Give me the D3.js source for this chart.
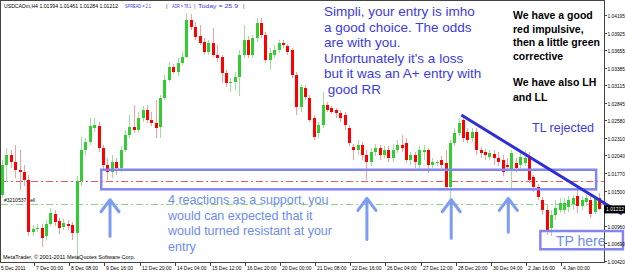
<!DOCTYPE html>
<html>
<head>
<meta charset="utf-8">
<script src="https://cdn.jsdelivr.net/npm/d3@7"></script>
<style>
  body { margin: 0; background: #fff; }
  svg { display: block; font-family: Arial, "Liberation Sans", sans-serif; }
</style>
</head>
<body>
<svg width="625" height="272"></svg>
<script>
// USDCAD H4 candles, 5 Dec 2011 -> 4 Jan 2012
var opens = [
  1.0143,1.0189,1.0205,1.0194,1.0182,1.0179,1.0166,1.0086,1.0091,1.0093,
  1.0080,1.0099,1.0114,1.0103,1.0094,1.0099,1.0097,1.0085,1.0165,1.0212,
  1.0225,1.0246,1.0249,1.0215,1.0189,1.0179,1.0194,1.0185,1.0212,1.0235,
  1.0248,1.0243,1.0261,1.0274,1.0258,1.0254,1.0248,1.0292,1.0320,1.0340,
  1.0332,1.0346,1.0355,1.0412,1.0401,1.0387,1.0378,1.0363,1.0376,1.0358,
  1.0355,1.0330,1.0315,1.0317,1.0324,1.0358,1.0381,1.0358,1.0384,1.0407,
  1.0389,1.0350,1.0358,1.0366,1.0376,1.0372,1.0366,1.0327,1.0278,1.0307,
  1.0292,1.0261,1.0238,1.0251,1.0281,1.0277,1.0274,1.0269,1.0266,1.0246,
  1.0217,1.0212,1.0220,1.0205,1.0194,1.0209,1.0215,1.0205,1.0212,1.0200,
  1.0212,1.0220,1.0223,1.0197,1.0205,1.0189,1.0209,1.0212,1.0189,1.0192,
  1.0197,1.0192,1.0155,1.0223,1.0238,1.0258,1.0240,1.0231,1.0240,1.0212,
  1.0209,1.0202,1.0206,1.0200,1.0197,1.0189,1.0182,1.0192,1.0189,1.0192,
  1.0202,1.0171,1.0155,1.0136,1.0120,1.0093,1.0113,1.0120,1.0120,1.0125,
  1.0129,1.0142,1.0126,1.0132,1.0136,1.0117,1.0139];
var highs = [
  1.0197,1.0215,1.0212,1.0220,1.0212,1.0189,1.0174,1.0097,1.0099,1.0099,
  1.0105,1.0123,1.0120,1.0108,1.0106,1.0105,1.0102,1.0172,1.0232,1.0231,
  1.0261,1.0261,1.0255,1.0220,1.0200,1.0205,1.0200,1.0218,1.0243,1.0266,
  1.0281,1.0271,1.0280,1.0281,1.0271,1.0289,1.0297,1.0327,1.0347,1.0344,
  1.0353,1.0363,1.0423,1.0421,1.0409,1.0404,1.0384,1.0381,1.0400,1.0373,
  1.0358,1.0335,1.0323,1.0332,1.0366,1.0404,1.0387,1.0389,1.0415,1.0415,
  1.0393,1.0369,1.0373,1.0381,1.0381,1.0375,1.0369,1.0332,1.0312,1.0312,
  1.0297,1.0266,1.0255,1.0301,1.0286,1.0280,1.0277,1.0274,1.0271,1.0251,
  1.0221,1.0228,1.0225,1.0212,1.0215,1.0221,1.0220,1.0218,1.0218,1.0221,
  1.0228,1.0235,1.0231,1.0209,1.0209,1.0218,1.0220,1.0215,1.0200,1.0197,
  1.0203,1.0212,1.0228,1.0246,1.0261,1.0266,1.0246,1.0246,1.0246,1.0217,
  1.0214,1.0212,1.0212,1.0209,1.0205,1.0200,1.0212,1.0200,1.0208,1.0212,
  1.0209,1.0174,1.0160,1.0140,1.0128,1.0120,1.0136,1.0139,1.0139,1.0142,
  1.0143,1.0151,1.0142,1.0143,1.0142,1.0143,1.0146];
var lows = [
  1.0139,1.0163,1.0185,1.0169,1.0151,1.0157,1.0080,1.0080,1.0086,1.0063,
  1.0074,1.0096,1.0096,1.0083,1.0090,1.0090,1.0074,1.0043,1.0157,1.0205,
  1.0220,1.0240,1.0209,1.0182,1.0166,1.0169,1.0174,1.0179,1.0209,1.0231,
  1.0238,1.0238,1.0255,1.0254,1.0249,1.0231,1.0231,1.0289,1.0317,1.0329,
  1.0326,1.0343,1.0353,1.0396,1.0381,1.0373,1.0358,1.0358,1.0355,1.0347,
  1.0315,1.0309,1.0301,1.0304,1.0295,1.0353,1.0353,1.0353,1.0378,1.0384,
  1.0346,1.0335,1.0353,1.0361,1.0369,1.0358,1.0323,1.0266,1.0271,1.0289,
  1.0255,1.0228,1.0231,1.0246,1.0271,1.0268,1.0261,1.0255,1.0243,1.0218,
  1.0197,1.0205,1.0197,1.0166,1.0188,1.0203,1.0197,1.0200,1.0194,1.0194,
  1.0208,1.0209,1.0192,1.0189,1.0185,1.0182,1.0197,1.0177,1.0185,1.0188,
  1.0185,1.0151,1.0117,1.0218,1.0234,1.0225,1.0223,1.0225,1.0205,1.0200,
  1.0197,1.0197,1.0189,1.0188,1.0172,1.0182,1.0151,1.0179,1.0185,1.0188,
  1.0162,1.0148,1.0136,1.0113,1.0082,1.0080,1.0105,1.0116,1.0114,1.0117,
  1.0120,1.0116,1.0120,1.0126,1.0108,1.0114,1.0121];
var closes = [
  1.0189,1.0205,1.0194,1.0182,1.0179,1.0166,1.0086,1.0091,1.0093,1.0077,
  1.0099,1.0116,1.0102,1.0093,1.0100,1.0096,1.0085,1.0165,1.0212,1.0225,
  1.0249,1.0251,1.0215,1.0189,1.0179,1.0194,1.0185,1.0212,1.0235,1.0248,
  1.0243,1.0261,1.0274,1.0258,1.0254,1.0246,1.0292,1.0320,1.0340,1.0332,
  1.0346,1.0355,1.0412,1.0401,1.0386,1.0376,1.0363,1.0376,1.0358,1.0353,
  1.0330,1.0315,1.0317,1.0324,1.0358,1.0381,1.0358,1.0384,1.0407,1.0389,
  1.0350,1.0361,1.0366,1.0376,1.0373,1.0363,1.0327,1.0278,1.0309,1.0294,
  1.0258,1.0232,1.0251,1.0281,1.0274,1.0271,1.0269,1.0261,1.0251,1.0223,
  1.0212,1.0220,1.0205,1.0194,1.0209,1.0215,1.0205,1.0212,1.0200,1.0212,
  1.0220,1.0215,1.0197,1.0205,1.0194,1.0212,1.0212,1.0189,1.0194,1.0194,
  1.0189,1.0155,1.0223,1.0238,1.0254,1.0231,1.0228,1.0240,1.0212,1.0208,
  1.0205,1.0208,1.0200,1.0194,1.0179,1.0186,1.0208,1.0185,1.0202,1.0200,
  1.0166,1.0155,1.0140,1.0120,1.0090,1.0113,1.0123,1.0131,1.0131,1.0136,
  1.0139,1.0126,1.0136,1.0139,1.0114,1.0139,1.01212];

// time axis labels, one every 8 bars
var dateLabels = ["5 Dec 2011","7 Dec 00:00","8 Dec 08:00","9 Dec 16:00","12 Dec 20:00",
  "14 Dec 04:00","15 Dec 12:00","16 Dec 20:00","20 Dec 00:00","21 Dec 08:00","22 Dec 16:00",
  "26 Dec 04:00","27 Dec 12:00","28 Dec 20:00","30 Dec 04:00","2 Jan 16:00","4 Jan 00:00"];
var priceTicks = [1.04195,1.03925,1.03655,1.03385,1.03115,1.02845,1.02580,1.02310,
  1.02040,1.01770,1.01500,1.00960,1.00690,1.00420];
var lastPrice = 1.01212;
var stopLevel = 1.0165, entryLevel = 1.0129;

function main() {
    var svg = d3.select("svg"),
        plotRight = 604,
        plotBottom = 262;

    var x = d3.scaleLinear().domain([0, opens.length - 1]).range([2, 599.2]);
    var y = d3.scaleLinear().domain([1.00420, 1.04195]).range([261, 15]);
    var bars = d3.range(opens.length);

    // chart frame
    svg.append("rect")
        .attr("x", 0.5).attr("y", 0.5)
        .attr("width", plotRight).attr("height", plotBottom)
        .attr("fill", "none").attr("stroke", "#444").attr("shape-rendering", "crispEdges");

    // order lines (stop loss red, entry green)
    [[stopLevel, "#e35b5b"], [entryLevel, "#86d686"]].forEach(function (l) {
        svg.append("line")
            .attr("x1", 1).attr("x2", plotRight)
            .attr("y1", Math.round(y(l[0])) + 0.5).attr("y2", Math.round(y(l[0])) + 0.5)
            .attr("stroke", l[1]).attr("stroke-dasharray", "7,3,2,3");
    });
    svg.append("text")
        .attr("x", 4).attr("y", y(entryLevel) - 2)
        .style("font-size", "5px").text("#3210537 sell");

    // candles
    var g = svg.append("g").attr("shape-rendering", "crispEdges");
    g.selectAll(".wick").data(bars).enter().append("line")
        .attr("class", "wick")
        .attr("x1", function (i) { return Math.round(x(i)) + 0.5; })
        .attr("x2", function (i) { return Math.round(x(i)) + 0.5; })
        .attr("y1", function (i) { return y(highs[i]); })
        .attr("y2", function (i) { return y(lows[i]); })
        .attr("stroke", function (i) { return closes[i] >= opens[i] ? "#9ee09e" : "#f5a0a0"; });
    g.selectAll(".body").data(bars).enter().append("rect")
        .attr("class", "body")
        .attr("x", function (i) { return Math.round(x(i)) - 1; })
        .attr("width", 3)
        .attr("y", function (i) { return y(Math.max(opens[i], closes[i])); })
        .attr("height", function (i) { return Math.max(1, Math.abs(y(opens[i]) - y(closes[i]))); })
        .attr("fill", function (i) { return closes[i] >= opens[i] ? "#33cc33" : "#ff0000"; });

    // support zone and TP box
    svg.append("rect")
        .attr("x", x(22.6)).attr("y", y(1.0182))
        .attr("width", x(135.3) - x(22.6)).attr("height", y(1.0152) - y(1.0182))
        .attr("fill", "none").attr("stroke", "#8585f2").attr("stroke-width", 2.5);
    svg.append("rect")
        .attr("x", x(122.6)).attr("y", y(1.0088))
        .attr("width", x(141.4) - x(122.6)).attr("height", y(1.0060) - y(1.0088))
        .attr("fill", "none").attr("stroke", "#8585f2").attr("stroke-width", 2.5);

    // trend line
    svg.append("line")
        .attr("x1", x(104.6)).attr("y1", y(1.0266))
        .attr("x2", x(141.2)).attr("y2", y(1.0114))
        .attr("stroke", "#2e2ed6").attr("stroke-width", 3);

    // reaction arrows
    var arrows = [[24.6, 1.0136, 1.0080], [83.1, 1.0138, 1.0075], [102.3, 1.0136, 1.0077], [115.3, 1.0138, 1.0086]];
    arrows.forEach(function (a) {
        var ax = x(a[0]), top = y(a[1]), bot = y(a[2]);
        svg.append("path")
            .attr("d", "M" + ax + "," + bot + "L" + ax + "," + top +
                "M" + (ax - 9) + "," + (top + 12) + "L" + ax + "," + top + "L" + (ax + 9) + "," + (top + 12))
            .attr("fill", "none").attr("stroke", "#7d9df5").attr("stroke-width", 3)
            .attr("stroke-linecap", "round").attr("stroke-linejoin", "round");
    });

    // annotations
    function block(lines, x0, y0, dy, size, color, weight) {
        var t = svg.append("text").attr("x", x0).attr("y", y0)
            .style("font-size", size + "px").style("fill", color)
            .style("font-weight", weight || "normal").attr("xml:space", "preserve");
        lines.forEach(function (s, k) {
            t.append("tspan").attr("x", x0).attr("dy", k === 0 ? 0 : dy).text(s);
        });
    }
    block(["Simpli, your entry is imho", "a good choice. The odds", "are with you.",
        "Unfortunately it's a loss", "but it was an A+ entry with", " good RR"],
        324, 16, 15.5, 13.5, "#3b3be6");
    block(["We have a good", "red impulsive,", "then a little green", "corrective"],
        513, 19, 13.6, 10.5, "#000", "bold");
    block(["We have also LH", "and LL"], 513, 86, 14.5, 10.5, "#000", "bold");
    block(["TL rejected"], 532, 131.5, 0, 12.5, "#3b3be0");
    block(["4 reactions as a support, you", "would can expected that it",
        "would turned resistant at your", "entry"], 168, 204, 15.5, 12.5, "#6c8cf2");
    block(["TP here"], 556, 245.5, 0, 14, "#6c8cf2");

    // header, squeezed to the widths of the original small bitmap font
    function fit(s, x0, y0, w, color) {
        svg.append("text").attr("x", x0).attr("y", y0)
            .attr("textLength", w).attr("lengthAdjust", "spacingAndGlyphs")
            .style("font-size", "6px").style("fill", color).text(s);
    }
    fit("USDCADm,H4  1.01394 1.01461 1.01284 1.01212", 4, 8, 114, "#000");
    fit("SPREAD = 2.1", 125, 8, 26, "#3a3ae0");
    fit("|", 166, 8, 1.5, "#3a3ae0");
    fit("ADR = 78.1", 172, 8, 19, "#3a3ae0");
    fit("|", 194, 8, 1.5, "#3a3ae0");
    fit("Today = 25.9", 198, 8, 40, "#3a3ae0");
    fit("|", 243, 8, 1.5, "#3a3ae0");
    fit("MetaTrader, \u00a9 2001-2011 MetaQuotes Software Corp.", 3, 258.5, 132, "#000");

    // price axis
    var pa = svg.append("g");
    priceTicks.forEach(function (p) {
        var ty = Math.round(y(p)) + 0.5;
        pa.append("line").attr("x1", plotRight).attr("x2", plotRight + 3)
            .attr("y1", ty).attr("y2", ty).attr("stroke", "#444");
        pa.append("text").attr("x", plotRight + 3.5).attr("y", ty + 2)
            .attr("textLength", 17.5).attr("lengthAdjust", "spacingAndGlyphs")
            .style("font-size", "5.5px").text(d3.format(".5f")(p));
    });
    var ly = y(lastPrice);
    pa.append("rect").attr("x", plotRight).attr("y", ly - 4).attr("width", 21).attr("height", 8).attr("fill", "#000");
    pa.append("text").attr("x", plotRight + 2).attr("y", ly + 2)
        .attr("textLength", 18).attr("lengthAdjust", "spacingAndGlyphs")
        .style("font-size", "5.5px").style("fill", "#fff").text(d3.format(".5f")(lastPrice));

    // time axis
    var ta = svg.append("g");
    dateLabels.forEach(function (s, k) {
        var tx = Math.round(x(k * 8)) - 2.5;
        ta.append("line").attr("x1", tx).attr("x2", tx)
            .attr("y1", plotBottom).attr("y2", plotBottom + 4).attr("stroke", "#444");
        ta.append("text").attr("x", tx + 1.5).attr("y", plotBottom + 8)
            .attr("textLength", s.length * 2.45).attr("lengthAdjust", "spacingAndGlyphs")
            .style("font-size", "5.5px").text(s);
    });
}
main();
</script>
</body>
</html>
